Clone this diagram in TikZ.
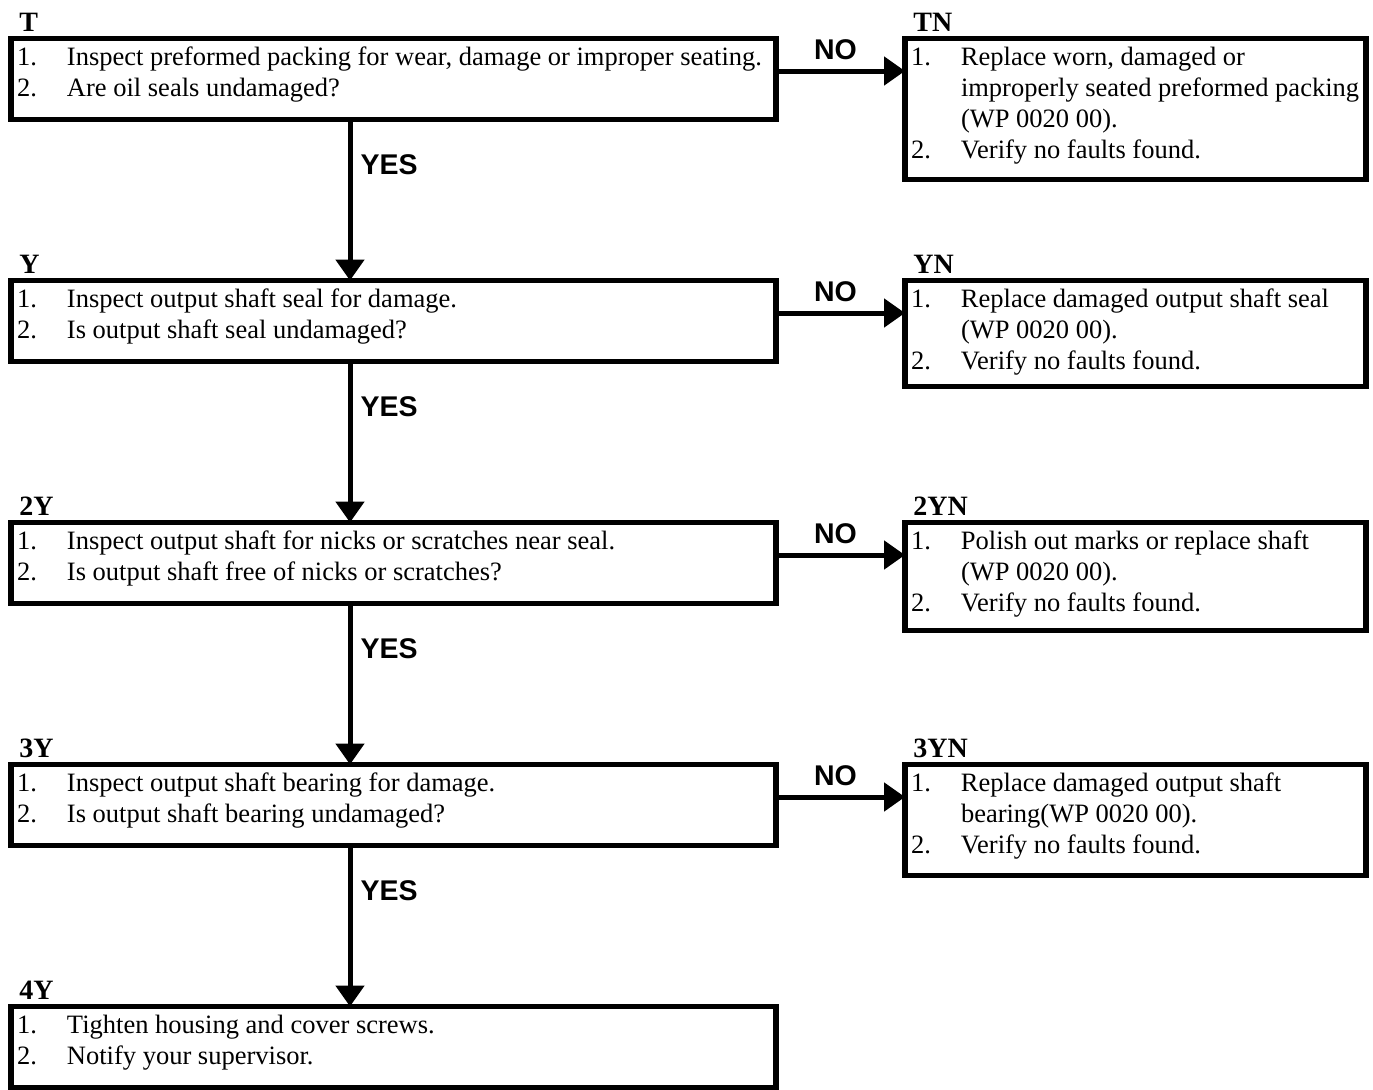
\documentclass[tikz,border=0pt]{standalone}
\usepackage{fontspec}
\setmainfont{Liberation Serif}
\newfontfamily\answerfont{Liberation Sans}
\usetikzlibrary{arrows.meta, positioning}

% box contents: width, height, rows of the numbered list
\newcommand{\steptext}[3]{%
  \begin{minipage}[t][#2][t]{#1}%
    \fontsize{13.25}{15.5}\selectfont
    \vspace*{2.4pt}%
    \begin{tabular}{@{\hspace{3pt}}p{25pt}@{}l@{}}
      #3
    \end{tabular}%
  \end{minipage}}

\tikzset{
  stepbox/.style={draw, line width=2.8pt, inner sep=0pt, outer sep=0pt, anchor=north west},
  tag/.style={font=\fontsize{14}{16}\selectfont\bfseries, anchor=south west, inner sep=0pt, xshift=4pt, yshift=3.25pt},
  flow/.style={-{Triangle[length=10.5pt, width=14pt]}, line width=2.5pt},
  answer/.style={font=\answerfont\bfseries\fontsize{14.25}{16}\selectfont, inner sep=0pt},
  yes/.style={answer, pos=0.28, anchor=west, xshift=4pt},
  no/.style={answer, midway, above=4.5pt, xshift=-2.5pt},
}

\begin{document}
\begin{tikzpicture}
  \useasboundingbox (0,0) rectangle (686.5pt,-544.5pt);

  % --- Left column: checks ---
  \node[stepbox, label={[tag]north west:T}] (t) at (5.5pt,-19.25pt)
    {\steptext{382.5pt}{40.5pt}{1. & Inspect preformed packing for wear, damage or improper seating.\\
                                2. & Are oil seals undamaged?}};
  \node[stepbox, below=80.5pt of t.south west, anchor=north west, label={[tag]north west:Y}] (y)
    {\steptext{382.5pt}{40.5pt}{1. & Inspect output shaft seal for damage.\\
                                2. & Is output shaft seal undamaged?}};
  \node[stepbox, below=80.5pt of y.south west, anchor=north west, label={[tag]north west:2Y}] (y2)
    {\steptext{382.5pt}{40.5pt}{1. & Inspect output shaft for nicks or scratches near seal.\\
                                2. & Is output shaft free of nicks or scratches?}};
  \node[stepbox, below=80.5pt of y2.south west, anchor=north west, label={[tag]north west:3Y}] (y3)
    {\steptext{382.5pt}{40.5pt}{1. & Inspect output shaft bearing for damage.\\
                                2. & Is output shaft bearing undamaged?}};
  \node[stepbox, below=80.5pt of y3.south west, anchor=north west, label={[tag]north west:4Y}] (y4)
    {\steptext{382.5pt}{40.5pt}{1. & Tighten housing and cover screws.\\
                                2. & Notify your supervisor.}};

  % --- Right column: repairs ---
  \node[stepbox, right=64.5pt of t.north east, anchor=north west, label={[tag]north west:TN}] (tn)
    {\steptext{230.5pt}{70.5pt}{1. & Replace worn, damaged or\\
                                   & improperly seated preformed packing\\
                                   & (WP 0020 00).\\
                                2. & Verify no faults found.}};
  \node[stepbox, right=64.5pt of y.north east, anchor=north west, label={[tag]north west:YN}] (yn)
    {\steptext{230.5pt}{53pt}{1. & Replace damaged output shaft seal\\
                                 & (WP 0020 00).\\
                              2. & Verify no faults found.}};
  \node[stepbox, right=64.5pt of y2.north east, anchor=north west, label={[tag]north west:2YN}] (y2n)
    {\steptext{230.5pt}{54pt}{1. & Polish out marks or replace shaft\\
                                 & (WP 0020 00).\\
                              2. & Verify no faults found.}};
  \node[stepbox, right=64.5pt of y3.north east, anchor=north west, label={[tag]north west:3YN}] (y3n)
    {\steptext{230.5pt}{55.5pt}{1. & Replace damaged output shaft\\
                                   & bearing(WP 0020 00).\\
                                2. & Verify no faults found.}};

  % --- YES arrows ---
  \draw[flow] ([xshift=169.5pt]t.south west)  -- node[yes] {YES} ([xshift=169.5pt]y.north west);
  \draw[flow] ([xshift=169.5pt]y.south west)  -- node[yes] {YES} ([xshift=169.5pt]y2.north west);
  \draw[flow] ([xshift=169.5pt]y2.south west) -- node[yes] {YES} ([xshift=169.5pt]y3.north west);
  \draw[flow] ([xshift=169.5pt]y3.south west) -- node[yes] {YES} ([xshift=169.5pt]y4.north west);

  % --- NO arrows ---
  \draw[flow] ([yshift=-16.25pt]t.north east)  -- node[no] {NO} ([yshift=-16.25pt]tn.north west);
  \draw[flow] ([yshift=-16.25pt]y.north east)  -- node[no] {NO} ([yshift=-16.25pt]yn.north west);
  \draw[flow] ([yshift=-16.25pt]y2.north east) -- node[no] {NO} ([yshift=-16.25pt]y2n.north west);
  \draw[flow] ([yshift=-16.25pt]y3.north east) -- node[no] {NO} ([yshift=-16.25pt]y3n.north west);

\end{tikzpicture}
\end{document}
